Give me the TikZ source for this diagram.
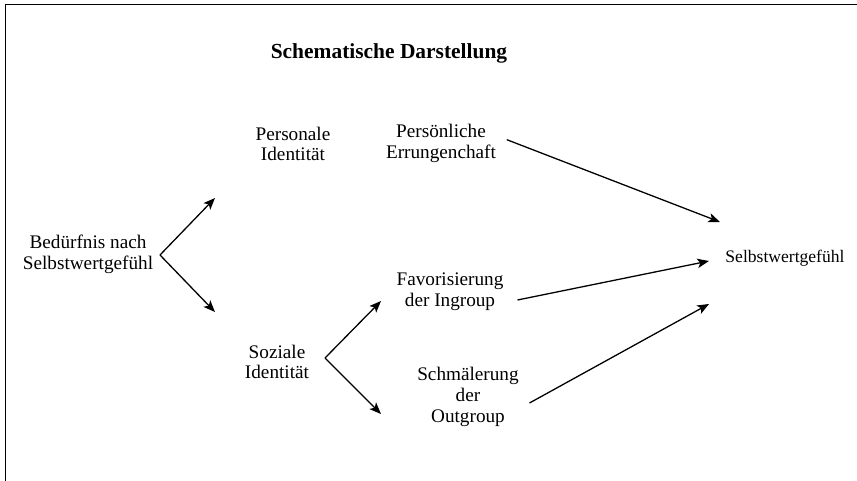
\documentclass[tikz,border=0pt]{standalone}
\usepackage{fontspec}
\setmainfont{Liberation Serif}
\usepackage{tikz}
\usetikzlibrary{arrows.meta}

\begin{document}
\begin{tikzpicture}[x=0.03cm, y=-0.03cm,
    txt/.style={align=center, font=\fontsize{16.4}{17.8}\selectfont},
    pfeil/.style={-{Stealth[length=10pt, width=8pt, inset=2.5pt]}, line width=1.1pt}]
    \useasboundingbox (0,0) rectangle (857,481);
    \draw[line width=1.5pt] (857,4.5) -- (5.5,4.5) -- (5.5,481);

    \node[font=\fontsize{18.3}{20}\selectfont\bfseries] (titel) at (389,53) {Schematische Darstellung};
    \node[txt] (beduerfnis) at (88,254) {Bedürfnis nach\\Selbstwertgefühl};
    \node[txt] (personal) at (293,144) {Personale\\Identität};
    \node[txt] (sozial) at (277,362) {Soziale\\Identität};
    \node[txt] (errungen) at (441,143) {Persönliche\\Errungenchaft};
    \node[txt] (ingroup) at (450,292) {Favorisierung\\der Ingroup};
    \node[txt] (outgroup) at (468,397) {Schmälerung\\der\\Outgroup};
    \node[txt, font=\fontsize{15}{17}\selectfont] (selbstwert) at (785,258) {Selbstwertgefühl};

    % Verzweigungen
    \coordinate (gabel1) at (160,255);
    \coordinate (oben1) at (215,198);
    \coordinate (unten1) at (215,312);
    \coordinate (gabel2) at (325,358);
    \coordinate (oben2) at (381,301);
    \coordinate (unten2) at (381,414);
    \draw[pfeil] (gabel1) -- (oben1);
    \draw[pfeil] (gabel1) -- (unten1);
    \draw[pfeil] (gabel2) -- (oben2);
    \draw[pfeil] (gabel2) -- (unten2);

    % zum Selbstwertgefuehl
    \coordinate (ziel1) at (720,222);
    \coordinate (ziel2) at (709,261);
    \coordinate (ziel3) at (709,304);
    \draw[pfeil] ([xshift=0.2cm, yshift=0.1cm]errungen.east) -- (ziel1);
    \draw[pfeil] ([xshift=0.3cm, yshift=-0.24cm]ingroup.east) -- (ziel2);
    \draw[pfeil] ([xshift=0.2cm, yshift=-0.18cm]outgroup.east) -- (ziel3);
\end{tikzpicture}
\end{document}
